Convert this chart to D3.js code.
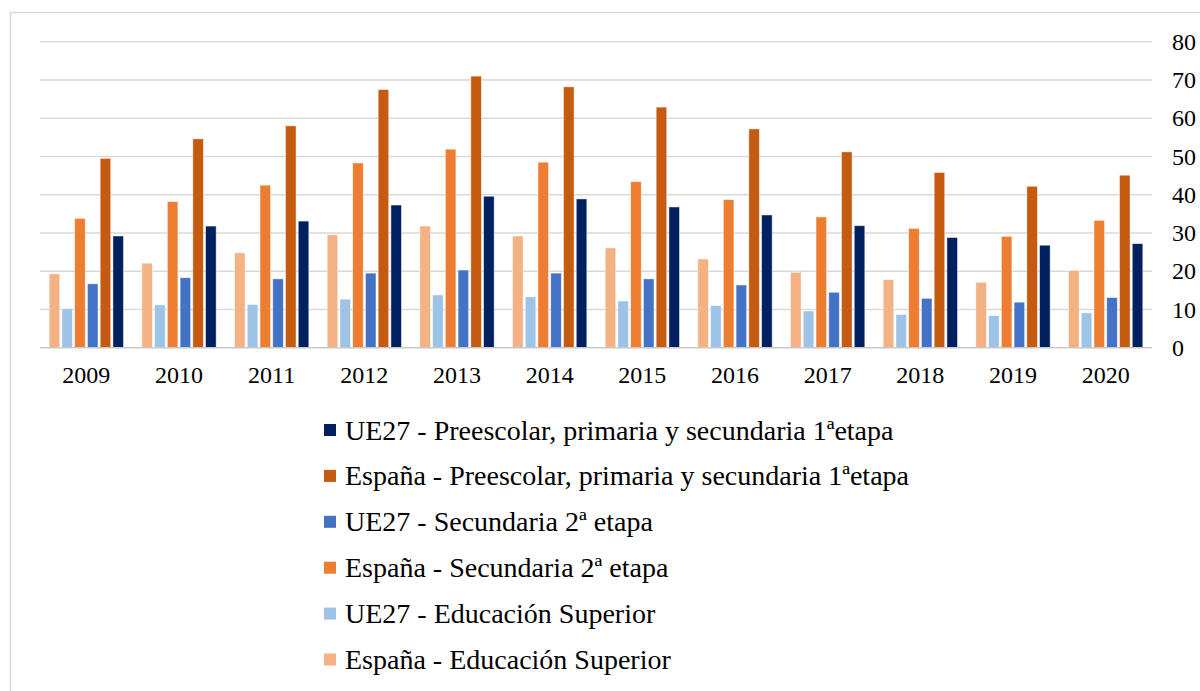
<!DOCTYPE html>
<html>
<head>
<meta charset="utf-8">
<script src="https://cdn.jsdelivr.net/npm/d3@7"></script>
<style>
  body { margin: 0; background: #fff; }
  svg text { font-family: "Liberation Serif", "Times New Roman", serif; fill: #000; }
</style>
</head>
<body>
<div id="chart"></div>
<script>
/* ---------------------- Data ---------------------- */
var years = ["2009", "2010", "2011", "2012", "2013", "2014", "2015", "2016", "2017", "2018", "2019", "2020"];

// series in the order they stand inside each year group
var espSuperior = [19.3, 22.1, 24.8, 29.5, 31.8, 29.2, 26.1, 23.2, 19.7, 17.8, 17.1, 20.2];
var ueSuperior  = [10.2, 11.2, 11.3, 12.7, 13.8, 13.3, 12.2, 11.0, 9.6, 8.7, 8.4, 9.1];
var espSecund   = [33.8, 38.2, 42.5, 48.3, 51.9, 48.5, 43.4, 38.7, 34.2, 31.2, 29.1, 33.3];
var ueSecund    = [16.7, 18.3, 18.0, 19.5, 20.3, 19.5, 18.0, 16.4, 14.5, 12.9, 11.9, 13.1];
var espPrimaria = [49.5, 54.6, 58.0, 67.5, 71.0, 68.2, 62.9, 57.2, 51.2, 45.8, 42.2, 45.1];
var uePrimaria  = [29.2, 31.8, 33.1, 37.3, 39.6, 38.9, 36.8, 34.7, 31.9, 28.8, 26.8, 27.2];

var yTicks = [0, 10, 20, 30, 40, 50, 60, 70, 80];

var series = [
    {key: "España - Educación Superior", values: espSuperior, color: "#F4B183"},
    {key: "UE27 - Educación Superior", values: ueSuperior, color: "#9DC3E6"},
    {key: "España - Secundaria 2ª etapa", values: espSecund, color: "#ED7D31"},
    {key: "UE27 - Secundaria 2ª etapa", values: ueSecund, color: "#4472C4"},
    {key: "España - Preescolar, primaria y secundaria 1ªetapa", values: espPrimaria, color: "#C55A11"},
    {key: "UE27 - Preescolar, primaria y secundaria 1ªetapa", values: uePrimaria, color: "#002060"}
];

// legend lists them the other way round
var legendOrder = series.slice().reverse();

var serif = "'Liberation Serif', 'Times New Roman', serif";

/* ---------------------- Chart ---------------------- */
var W = 1200, H = 691;
var plot = {left: 40, right: 1152, top: 41.7, bottom: 347.7};

var svg = d3.select("#chart")
    .append("svg")
    .attr("width", W)
    .attr("height", H);

// Outer frame (runs off the picture at right and bottom)
svg.append("rect")
    .attr("x", 10.5)
    .attr("y", 12.5)
    .attr("width", W)
    .attr("height", H)
    .attr("fill", "none")
    .attr("stroke", "#d9d9d9")
    .attr("stroke-width", 1.5);

var x0 = d3.scaleBand()
    .domain(years)
    .range([plot.left, plot.right])
    .paddingInner(0)
    .paddingOuter(0);

var x1 = d3.scaleBand()
    .domain(series.map(d => d.key))
    .range([0, x0.bandwidth()])
    .paddingInner(0.17)
    .paddingOuter(0.72);

var y = d3.scaleLinear()
    .domain([0, 80])
    .range([plot.bottom, plot.top]);

// Gridlines
svg.append("g")
    .attr("class", "grid")
    .selectAll("line")
    .data(yTicks.filter(d => d > 0))
    .enter()
    .append("line")
    .attr("x1", plot.left)
    .attr("x2", plot.right)
    .attr("y1", d => y(d))
    .attr("y2", d => y(d))
    .attr("stroke", "#d9d9d9")
    .attr("stroke-width", 1.4);

// Bars
var groups = svg.append("g")
    .selectAll("g")
    .data(years)
    .enter()
    .append("g")
    .attr("transform", d => `translate(${x0(d)}, 0)`);

groups.selectAll("rect")
    .data((yr, i) => series.map(s => ({key: s.key, color: s.color, value: s.values[i]})))
    .enter()
    .append("rect")
    .attr("x", d => x1(d.key))
    .attr("y", d => y(d.value))
    .attr("width", x1.bandwidth())
    .attr("height", d => y(0) - y(d.value))
    .attr("fill", d => d.color)
    .attr("stroke", "#fff")
    .attr("stroke-opacity", 0.6)
    .attr("stroke-width", 0.8);

// Baseline
svg.append("line")
    .attr("x1", plot.left)
    .attr("x2", plot.right)
    .attr("y1", y(0))
    .attr("y2", y(0))
    .attr("stroke", "#c8c8c8")
    .attr("stroke-width", 1.4);

// Y axis on the right, labels only
var yAxis = d3.axisRight(y)
    .tickValues(yTicks)
    .tickSize(0)
    .tickPadding(0);

svg.append("g")
    .attr("class", "y-axis")
    .attr("transform", `translate(1172, 0)`)
    .call(yAxis)
    .call(g => g.attr("font-family", serif).attr("font-size", 24))
    .call(g => g.select(".domain").remove())
    .selectAll("text")
    .attr("fill", "#000");

// X axis labels
var xAxis = d3.axisBottom(x0)
    .tickSize(0)
    .tickPadding(0);

svg.append("g")
    .attr("class", "x-axis")
    .attr("transform", `translate(0, ${plot.bottom})`)
    .call(xAxis)
    .call(g => g.attr("font-family", serif).attr("font-size", 24))
    .call(g => g.select(".domain").remove())
    .selectAll("text")
    .attr("dy", null)
    .attr("y", 35)
    .attr("fill", "#000");

// Legend
var legend = svg.append("g")
    .attr("class", "legend")
    .attr("font-family", serif)
    .attr("font-size", 28)
    .selectAll("g")
    .data(legendOrder)
    .enter()
    .append("g")
    .attr("transform", (d, i) => `translate(324, ${439.5 + i * 45.9})`);

legend.append("rect")
    .attr("x", 0)
    .attr("y", -15.5)
    .attr("width", 12)
    .attr("height", 12)
    .attr("fill", d => d.color);

legend.append("text")
    .attr("x", 21)
    .attr("y", 0)
    .text(d => d.key);
</script>
</body>
</html>
